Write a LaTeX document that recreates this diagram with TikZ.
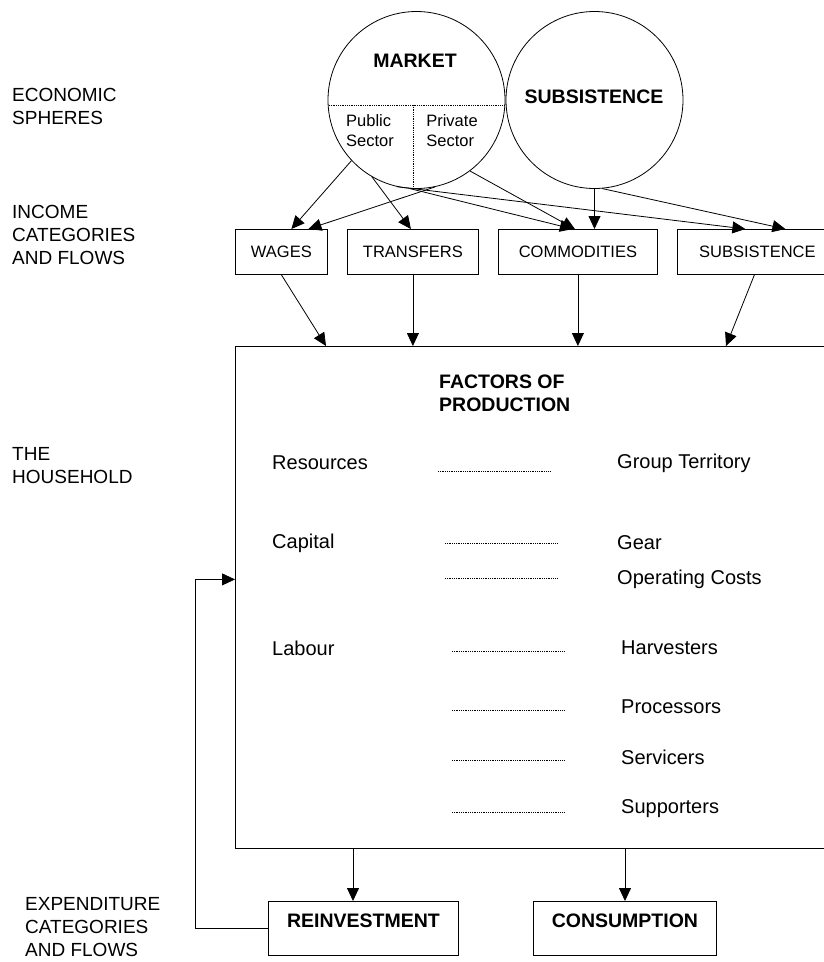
\documentclass[tikz,border=0pt]{standalone}
\usepackage{fontspec}
\setmainfont{Liberation Sans}
\usetikzlibrary{positioning, arrows.meta, calc}

\begin{document}
\begin{tikzpicture}[x=1pt, y=-1pt,
  every node/.style={font=\fontsize{19}{23}\selectfont, inner sep=0pt},
  side/.style={anchor=west, align=left},
  sphere/.style={draw, circle, minimum size=177pt, line width=0.8pt},
  title/.style={font=\fontsize{19.5}{23}\selectfont\bfseries},
  sector/.style={align=left, font=\fontsize{16.5}{19.5}\selectfont},
  inbox/.style={draw, minimum height=45pt, anchor=north west, font=\fontsize{16.5}{20}\selectfont, line width=0.8pt},
  outbox/.style={draw, minimum width=#1, text height=22pt, text depth=24pt, inner ysep=4pt, anchor=north west, font=\fontsize{19.5}{23}\selectfont\bfseries, line width=0.8pt},
  fac/.style={anchor=west, font=\fontsize{20}{24}\selectfont},
  arr/.style={-{Triangle[length=13pt, width=12pt]}, line width=0.8pt},
  dots/.style={line width=0.7pt, dash pattern=on 0.9pt off 0.9pt},
]
  \useasboundingbox (0,0) rectangle (823,962);

  % Side labels
  \node[side] (econ) at (12,106.5) {ECONOMIC\\SPHERES};
  \node[side] (income) at (12,235) {INCOME\\CATEGORIES\\AND FLOWS};
  \node[side] (house) at (12,466) {THE\\HOUSEHOLD};
  \node[side] (expend) at (25,927) {EXPENDITURE\\CATEGORIES\\AND FLOWS};

  % Economic spheres
  \node[sphere] (market) at (416.5,100) {};
  \node[sphere] (subs) at (594.5,100) {};
  \begin{scope}
    \clip (market.center) circle (88.5pt);
    \draw[dots] (320,105) -- (515,105);
    \draw[dots] (413,105) -- (413,200);
  \end{scope}
  \node[title] (mkt) at (415,61) {MARKET};
  \node[sector] (public) at (370,130.5) {Public\\Sector};
  \node[sector] (private) at (452,130.5) {Private\\Sector};
  \node[title] (subsname) at (594,97) {SUBSISTENCE};

  % Income categories
  \node[inbox, minimum width=92pt] (wages) at (235,229) {WAGES};
  \node[inbox, minimum width=131pt] (transfers) at (347,229) {TRANSFERS};
  \node[inbox, minimum width=159pt] (commod) at (498,229) {COMMODITIES};
  \node[inbox, minimum width=160pt] (subsbox) at (677,229) {SUBSISTENCE\hspace{14pt}};

  % Flows from the spheres
  \draw[arr] (market.223) -- ([xshift=10pt]wages.north);
  \draw[arr] (market.240) -- ([xshift=-2pt]transfers.north);
  \draw[arr] (market.282) -- ([xshift=27pt]wages.north);
  \draw[arr] (market.266) -- ([xshift=-5pt]commod.north);
  \draw[arr] (market.307) -- ([xshift=-3pt]commod.north);
  \draw[arr] (market.257) -- ([xshift=-12pt]subsbox.north);
  \draw[arr] (subs.south) -- (subs.south |- commod.north);
  \draw[arr] (subs.275) -- ([xshift=28pt]subsbox.north);

  % The household
  \node[draw, anchor=north west, minimum width=600pt, minimum height=502pt, line width=0.8pt] (main) at (235,346) {};
  \node[anchor=west, align=left, title] (fop) at (439,393.5) {FACTORS OF\\PRODUCTION};

  \draw[arr] (wages.south) -- ([xshift=91pt]main.north west);
  \draw[arr] (transfers.south) -- (transfers.south |- main.north);
  \draw[arr] (commod.south) -- (commod.south |- main.north);
  \draw[arr] ([xshift=-3pt]subsbox.south) -- ([xshift=491pt]main.north west);

  % Factors
  \node[fac] (res) at (272,463) {Resources};
  \node[fac] (terr) at (617,463) {Group Territory};
  \draw[dots] (438,471) -- (550,471);
  \node[fac] (cap) at (272,543) {Capital};
  \node[fac] (gear) at (617,543) {Gear};
  \draw[dots] (445,543) -- (558,543);
  \node[fac] (opcost) at (617,579) {Operating Costs};
  \draw[dots] (445,578) -- (558,578);
  \node[fac] (lab) at (272,648) {Labour};
  \node[fac] (harv) at (621,648) {Harvesters};
  \draw[dots] (452,651) -- (565,651);
  \node[fac] (proc) at (621,707) {Processors};
  \draw[dots] (452,710) -- (565,710);
  \node[fac] (serv) at (621,757) {Servicers};
  \draw[dots] (452,760) -- (565,760);
  \node[fac] (supp) at (621,809) {Supporters};
  \draw[dots] (452,812) -- (565,812);

  % Expenditure
  \node[outbox=190pt] (reinv) at (268,901) {REINVESTMENT};
  \node[outbox=183pt] (cons) at (533,901) {CONSUMPTION};
  \coordinate (r1) at ([xshift=118pt]main.south west);
  \coordinate (c1) at ([xshift=390pt]main.south west);
  \draw[arr] (r1) -- (r1 |- reinv.north);
  \draw[arr] (c1) -- (c1 |- cons.north);
  \draw[arr] (reinv.west) -- ++(-73,0) |- ([yshift=18pt]main.west);
\end{tikzpicture}
\end{document}
